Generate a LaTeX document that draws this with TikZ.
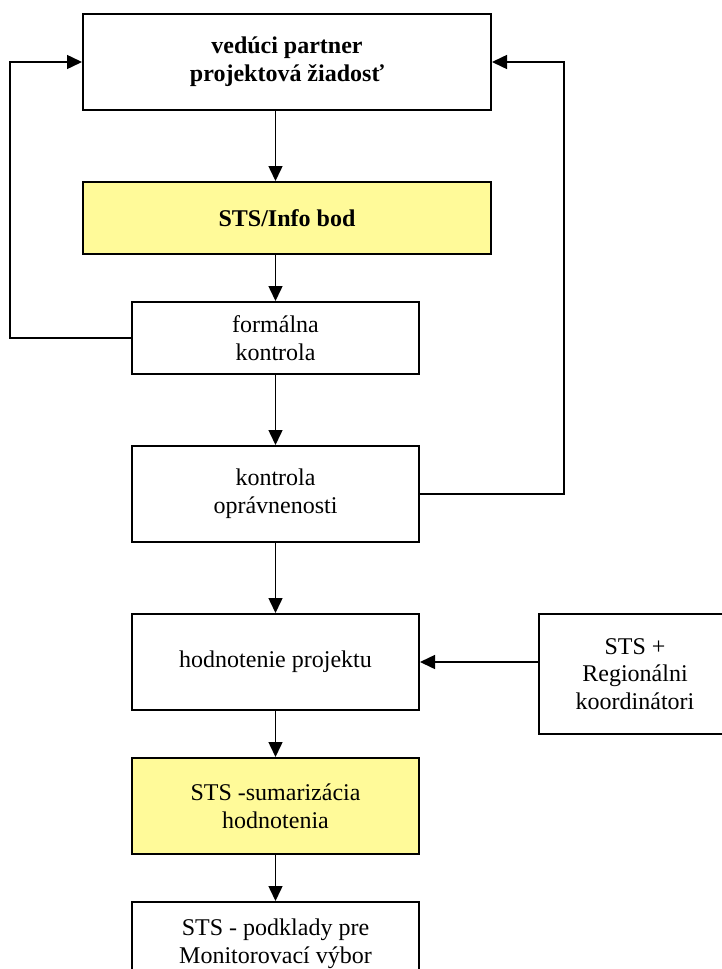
\documentclass[tikz,border=0pt]{standalone}
\usepackage{fontspec}
\setmainfont{Liberation Serif}
\usetikzlibrary{arrows.meta}
\begin{document}
\begin{tikzpicture}[x=0.5pt, y=-0.5pt,
  box/.style={draw, line width=1pt, inner sep=0pt, align=center, font=\fontsize{12}{13.8}\selectfont},
  hl/.style={box, fill=yellow!40},
  arr/.style={-{Triangle[length=7.5pt,width=7pt]}, line width=0.75pt}]
\useasboundingbox (0,0) rectangle (722,969);
\clip (0,0) rectangle (722,969);
\node[box, minimum width=204pt, minimum height=48pt, font=\fontsize{12}{13.8}\selectfont\bfseries] (partner) at (287, 62) {vedúci partner\\projektová žiadosť};
\node[hl, minimum width=204pt, minimum height=36pt, font=\fontsize{12}{13.8}\selectfont\bfseries] (info) at (287, 218) {STS/Info bod};
\node[box, minimum width=143.5pt, minimum height=36pt] (formal) at (275.5, 338) {formálna\\kontrola};
\node[box, minimum width=143.5pt, minimum height=48pt] (opravn) at (275.5, 494) {kontrola\\oprávnenosti};
\node[box, minimum width=143.5pt, minimum height=48pt] (hodnot) at (275.5, 662) {hodnotenie projektu};
\node[box, minimum width=96pt, minimum height=60pt] (koord) at (635, 674) {STS +\\Regionálni\\koordinátori};
\node[hl, minimum width=143.5pt, minimum height=48pt] (sumar) at (275.5, 806) {STS -sumarizácia\\hodnotenia};
\node[box, minimum width=143.5pt, minimum height=42pt] (podklady) at (275.5, 944) {STS - podklady pre\\Monitorovací výbor};
\draw[arr] (partner.south -| formal.north) -- (info.north -| formal.north);
\draw[arr] (info.south -| formal.north) -- (formal.north);
\draw[arr] (formal) -- (opravn);
\draw[arr] (opravn) -- (hodnot);
\draw[arr] (hodnot) -- (sumar);
\draw[arr] (sumar) -- (podklady);
\draw[arr] (koord.west |- hodnot.east) -- (hodnot.east);
\draw[arr] (formal.west) -- ++(-121,0) |- (partner.west);
\draw[arr] (opravn.east) -- ++(144,0) |- (partner.east);
\end{tikzpicture}
\end{document}
